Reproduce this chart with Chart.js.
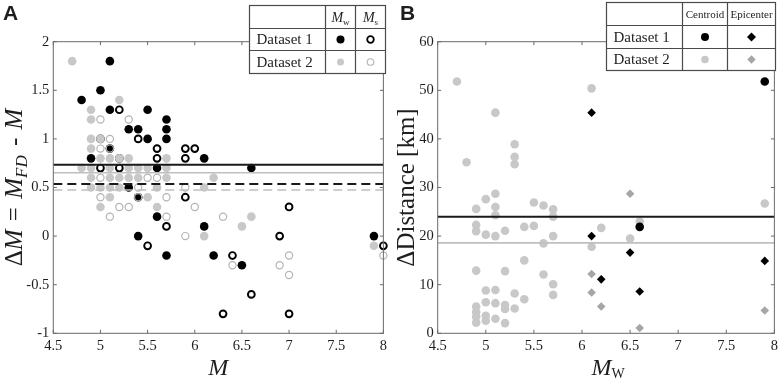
<!DOCTYPE html>
<html>
<head>
<meta charset="utf-8">
<script src="https://cdn.jsdelivr.net/npm/chart.js@4.4.1/dist/chart.umd.min.js"></script>
<style>
  body { margin: 0; background: #fff; }
  #wrap { position: relative; width: 782px; height: 380px; }
  .panel { position: absolute; top: 0; width: 391px; height: 380px; }
</style>
</head>
<body>
<div id="wrap">
  <div class="panel" style="left:0"><canvas id="chartA"></canvas></div>
  <div class="panel" style="left:391px"><canvas id="chartB"></canvas></div>
</div>
<script>
// ---- panel A : magnitude difference vs magnitude ----
const d1MwM  = [4.8, 5.0, 5.1, 5.1, 5.5, 5.3, 5.4, 5.7, 5.7, 5.5, 5.7, 5.1, 4.9, 6.1, 5.6, 6.6, 5.3, 5.4, 5.6, 6.1, 5.4, 5.7, 6.2, 6.5, 7.9];
const d1MwDM = [1.4, 1.5, 1.8, 1.3, 1.3, 1.1, 1.1, 1.2, 1.1, 1.0, 1.0, 0.9, 0.8, 0.8, 0.7, 0.7, 0.5, 0.4, 0.2, 0.1, 0.0, -0.2, -0.2, -0.3, 0.0];

const d1MsM  = [5.2, 5.0, 5.4, 5.6, 5.9, 6.0, 5.2, 5.6, 5.9, 5.0, 5.2, 5.9, 5.7, 7.0, 5.5, 6.9, 6.4, 6.6, 6.3, 7.0, 8.0];
const d1MsDM = [1.3, 1.0, 1.0, 0.9, 0.9, 0.9, 0.8, 0.8, 0.8, 0.7, 0.7, 0.4, 0.1, 0.3, -0.1, 0.0, -0.2, -0.6, -0.8, -0.8, -0.1];

const d2MwM  = [4.7, 5.2, 4.9, 4.9, 4.9, 5.0, 4.9, 5.0, 5.1, 5.2, 5.3, 5.7, 4.8, 4.9, 5.1, 5.3, 5.4, 5.5, 5.7, 4.9,
                5.1, 5.2, 5.3, 5.4, 5.7, 6.2, 4.9, 5.0, 5.1, 5.2, 5.6, 6.1, 5.1, 5.5, 5.0, 5.6, 6.6, 6.5, 6.1, 7.9];
const d2MwDM = [1.8, 1.4, 1.3, 1.2, 1.0, 1.0, 0.9, 0.8, 0.8, 0.8, 0.8, 0.8, 0.7, 0.7, 0.7, 0.7, 0.7, 0.7, 0.7, 0.6,
                0.6, 0.6, 0.6, 0.6, 0.6, 0.6, 0.5, 0.5, 0.5, 0.5, 0.5, 0.5, 0.4, 0.4, 0.3, 0.3, 0.2, 0.1, 0.0, -0.1];

const d2MsM  = [5.0, 5.3, 5.1, 5.0, 5.1, 5.0, 5.5, 5.6, 5.4, 5.9, 5.0, 5.7, 5.4, 5.2, 5.3, 6.0, 5.1, 5.7, 6.3, 5.9, 6.4, 6.9, 7.0, 7.0, 8.0];
const d2MsDM = [1.2, 1.2, 1.0, 0.9, 0.9, 0.6, 0.6, 0.6, 0.5, 0.5, 0.4, 0.4, 0.4, 0.3, 0.3, 0.3, 0.2, 0.2, 0.2, 0.0, -0.3, -0.3, -0.2, -0.4, -0.2];

// mean lines: [d1 Mw, d2 Mw, d1 Ms, d2 Ms]
const meanA = [0.735, 0.652, 0.536, 0.474];

// ---- panel B : location difference vs Mw ----
const d1CenMw   = [6.6, 7.9];
const d1CenDist = [21.9, 51.8];
const d1EpiMw   = [6.1, 6.1, 6.2, 6.5, 6.6, 7.9];
const d1EpiDist = [45.4, 20.0, 11.1, 16.6, 8.6, 14.9];

const d2CenMw   = [4.7, 4.8, 5.1, 5.3, 5.3, 5.3, 6.1,
                   4.9, 4.9, 4.9, 4.9, 4.9, 4.9, 4.9, 4.9,
                   5.0, 5.0, 5.0, 5.0, 5.0, 5.0,
                   5.1, 5.1, 5.1, 5.1, 5.1, 5.1, 5.1,
                   5.2, 5.2, 5.2, 5.2, 5.2, 5.3, 5.3,
                   5.4, 5.4, 5.4, 5.5, 5.5, 5.6, 5.6, 5.6,
                   5.7, 5.7, 5.7, 5.7, 5.7, 6.1, 6.2, 6.5, 6.6, 7.9];
const d2CenDist = [51.8, 35.2, 45.4, 38.9, 36.3, 34.8, 50.4,
                   25.6, 22.3, 21.0, 12.9, 5.5, 4.4, 3.4, 2.2,
                   27.6, 20.3, 8.8, 6.4, 3.6, 2.6,
                   28.7, 26.0, 24.3, 20.0, 8.9, 6.2, 3.0,
                   21.1, 12.8, 5.8, 5.0, 2.1, 8.2, 5.1,
                   21.9, 15.0, 7.0, 26.9, 22.1, 26.3, 18.5, 12.1,
                   25.5, 24.0, 20.0, 10.1, 7.9, 17.8, 21.7, 19.5, 23.0, 26.7];
const d2EpiMw   = [6.1, 6.1, 6.2, 6.5, 6.6, 7.9];
const d2EpiDist = [12.2, 8.4, 5.5, 28.7, 1.1, 4.7];

// mean lines: [d1, d2]
const meanB = [24.0, 18.6];

const xTicksMin = 4.5, xTicksMax = 8;

const SERIF = '"Liberation Serif", "Times New Roman", serif';
const AXIS = '#6a6a6a';
const TXT = '#1e1e1e';
const GRAY = '#c8c8c8';
const GRAY_RING = '#b4b4b4';
const GRAY_DIA = '#a6a6a6';

const zip = (xs, ys) => xs.map((x, i) => ({ x: x, y: ys[i] }));
const hline = (v) => [{ x: xTicksMin, y: v }, { x: xTicksMax, y: v }];

// draw a list of text runs (for italics / subscripts), centred on x
function drawRuns(ctx, runs, x, y) {
  let w = 0;
  runs.forEach(r => { ctx.font = r.f; w += ctx.measureText(r.t).width + (r.gap || 0); });
  let cx = x - w / 2;
  ctx.textAlign = 'left';
  ctx.textBaseline = 'alphabetic';
  runs.forEach(r => {
    ctx.font = r.f;
    ctx.fillText(r.t, cx, y + (r.dy || 0));
    cx += ctx.measureText(r.t).width + (r.gap || 0);
  });
}

function marker(ctx, kind, x, y, r, color, lw) {
  ctx.beginPath();
  if (kind === 'diamond') {
    ctx.moveTo(x - r, y); ctx.lineTo(x, y - r); ctx.lineTo(x + r, y); ctx.lineTo(x, y + r); ctx.closePath();
  } else {
    ctx.arc(x, y, r, 0, Math.PI * 2);
  }
  if (lw) { ctx.strokeStyle = color; ctx.lineWidth = lw; ctx.stroke(); }
  else { ctx.fillStyle = color; ctx.fill(); }
}

// box + inward ticks, axis titles, legend table, panel letter
const decor = (cfg) => ({
  id: 'decor',
  afterDraw(chart) {
    const ctx = chart.ctx;
    const a = chart.chartArea;
    ctx.save();
    ctx.strokeStyle = AXIS;
    ctx.lineWidth = 1;
    ctx.strokeRect(a.left, a.top, a.right - a.left, a.bottom - a.top);
    ctx.beginPath();
    chart.scales.x.ticks.forEach(t => {
      const p = chart.scales.x.getPixelForValue(t.value);
      ctx.moveTo(p, a.bottom); ctx.lineTo(p, a.bottom - 3.5);
      ctx.moveTo(p, a.top); ctx.lineTo(p, a.top + 3.5);
    });
    chart.scales.y.ticks.forEach(t => {
      const p = chart.scales.y.getPixelForValue(t.value);
      ctx.moveTo(a.left, p); ctx.lineTo(a.left + 3.5, p);
      ctx.moveTo(a.right, p); ctx.lineTo(a.right - 3.5, p);
    });
    ctx.stroke();

    ctx.fillStyle = TXT;
    drawRuns(ctx, cfg.xTitle, (a.left + a.right) / 2 + cfg.xTitleShift, 375);
    ctx.save();
    ctx.translate(cfg.yTitleX, (a.top + a.bottom) / 2);
    ctx.rotate(-Math.PI / 2);
    drawRuns(ctx, cfg.yTitle, 0, 8);
    ctx.restore();

    ctx.font = 'bold 21px "Liberation Sans", Arial, sans-serif';
    ctx.textAlign = 'left';
    ctx.textBaseline = 'alphabetic';
    ctx.fillText(cfg.letter, cfg.letterX, 20);

    // legend table
    const L = cfg.legend;
    ctx.fillStyle = '#fff';
    ctx.fillRect(L.x0, L.y0, L.x1 - L.x0, L.y3 - L.y0);
    ctx.strokeStyle = '#4a4a4a';
    ctx.lineWidth = 1.2;
    ctx.strokeRect(L.x0, L.y0, L.x1 - L.x0, L.y3 - L.y0);
    ctx.beginPath();
    [L.y1, L.y2].forEach(y => { ctx.moveTo(L.x0, y); ctx.lineTo(L.x1, y); });
    [L.c1, L.c2].forEach(x => { ctx.moveTo(x, L.y0); ctx.lineTo(x, L.y3); });
    ctx.stroke();
    const m1 = (L.c1 + L.c2) / 2, m2 = (L.c2 + L.x1) / 2;
    const r1 = (L.y1 + L.y2) / 2, r2 = (L.y2 + L.y3) / 2;
    ctx.fillStyle = TXT;
    drawRuns(ctx, L.head1, m1, L.headY);
    drawRuns(ctx, L.head2, m2, L.headY);
    ctx.font = '15px ' + SERIF;
    ctx.textAlign = 'left';
    ctx.textBaseline = 'middle';
    ctx.fillText(cfg.rowLabels[0], L.x0 + 7, r1 + 1);
    ctx.fillText(cfg.rowLabels[1], L.x0 + 7, r2 + 1);
    L.marks.forEach(mk => marker(ctx, mk.kind, mk.col === 1 ? m1 : m2, mk.row === 1 ? r1 : r2, mk.r, mk.c, mk.lw));
    ctx.restore();
  }
});

const tickFont = { family: SERIF, size: 14.5 };
const plainNum = (v) => String(Number(v.toFixed(2)));

function baseOptions(yMin, yMax, yStep, yWidth, rightPad) {
  return {
    responsive: true,
    maintainAspectRatio: false,
    animation: false,
    layout: { padding: { top: 41.7, right: rightPad, left: 0, bottom: 0 } },
    plugins: { legend: { display: false }, tooltip: { enabled: false } },
    scales: {
      x: {
        type: 'linear', min: xTicksMin, max: xTicksMax,
        ticks: { stepSize: 0.5, font: tickFont, color: TXT, padding: 4, callback: plainNum },
        grid: { display: false, drawTicks: false },
        border: { display: false },
        afterFit: (s) => { s.height = 46.7; }
      },
      y: {
        type: 'linear', min: yMin, max: yMax,
        ticks: { stepSize: yStep, font: tickFont, color: TXT, padding: 4, callback: plainNum },
        grid: { display: false, drawTicks: false },
        border: { display: false },
        afterFit: (s) => { s.width = yWidth; }
      }
    }
  };
}

const pts = (data, order, style) => Object.assign({ type: 'scatter', data: data, order: order, clip: false }, style);
const lineDs = (v, color, width, dash) => ({
  type: 'line', data: hline(v), order: 0, clip: false,
  borderColor: color, borderWidth: width, borderDash: dash || [], pointRadius: 0, fill: false
});

const italic = (s) => 'italic ' + s + 'px ' + SERIF;
const roman = (s) => s + 'px ' + SERIF;

new Chart(document.getElementById('chartA'), {
  type: 'scatter',
  data: {
    datasets: [
      lineDs(meanA[0], '#1a1a1a', 2),
      lineDs(meanA[1], '#bfbfbf', 1.6),
      lineDs(meanA[2], '#1a1a1a', 1.8, [9, 5]),
      lineDs(meanA[3], '#bfbfbf', 1.6, [9, 5]),
      pts(zip(d2MsM, d2MsDM), 1, { pointRadius: 3.6, borderWidth: 1.2, borderColor: GRAY_RING, backgroundColor: 'rgba(0,0,0,0)' }),
      pts(zip(d2MwM, d2MwDM), 2, { pointRadius: 4.3, borderWidth: 0, backgroundColor: GRAY }),
      pts(zip(d1MsM, d1MsDM), 3, { pointRadius: 3.4, borderWidth: 1.9, borderColor: '#000', backgroundColor: 'rgba(0,0,0,0)' }),
      pts(zip(d1MwM, d1MwDM), 4, { pointRadius: 4.3, borderWidth: 0, backgroundColor: '#000' })
    ]
  },
  options: baseOptions(-1, 2, 0.5, 53.3, 5.3),
  plugins: [decor({
    letter: 'A', letterX: 3,
    xTitle: [{ t: 'M', f: italic(24) }], xTitleShift: 0,
    yTitleX: 14,
    yTitle: [
      { t: 'Δ', f: roman(25) }, { t: 'M', f: italic(25), gap: 2 }, { t: ' = ', f: roman(25), gap: 2 },
      { t: 'M', f: italic(25) }, { t: 'FD', f: italic(17), dy: 5, gap: 3 },
      { t: ' - ', f: roman(25), gap: 2 }, { t: 'M', f: italic(25) }
    ],
    rowLabels: ['Dataset 1', 'Dataset 2'],
    legend: {
      x0: 249.5, x1: 385.5, y0: 5.5, y1: 28.5, y2: 50.5, y3: 73.5, c1: 325.5, c2: 355.5, headY: 22,
      head1: [{ t: 'M', f: italic(14) }, { t: 'w', f: roman(9), dy: 3 }],
      head2: [{ t: 'M', f: italic(14) }, { t: 's', f: roman(9), dy: 3 }],
      marks: [
        { kind: 'circle', col: 1, row: 1, r: 4, c: '#000' },
        { kind: 'circle', col: 2, row: 1, r: 3.3, c: '#000', lw: 1.8 },
        { kind: 'circle', col: 1, row: 2, r: 3.5, c: GRAY },
        { kind: 'circle', col: 2, row: 2, r: 3.3, c: GRAY_RING, lw: 1.1 }
      ]
    }
  })]
});

new Chart(document.getElementById('chartB'), {
  type: 'scatter',
  data: {
    datasets: [
      lineDs(meanB[0], '#1a1a1a', 2),
      lineDs(meanB[1], '#bfbfbf', 1.6),
      pts(zip(d1EpiMw, d1EpiDist), 1, { pointStyle: 'rectRot', pointRadius: 4.3, borderWidth: 0, backgroundColor: '#000' }),
      pts(zip(d1CenMw, d1CenDist), 2, { pointRadius: 4.3, borderWidth: 0, backgroundColor: '#000' }),
      pts(zip(d2EpiMw, d2EpiDist), 3, { pointStyle: 'rectRot', pointRadius: 4.3, borderWidth: 0, backgroundColor: GRAY_DIA }),
      pts(zip(d2CenMw, d2CenDist), 4, { pointRadius: 4.3, borderWidth: 0, backgroundColor: GRAY })
    ]
  },
  options: baseOptions(0, 60, 10, 46.7, 6.3),
  plugins: [decor({
    letter: 'B', letterX: 9,
    xTitle: [{ t: 'M', f: italic(24) }, { t: 'W', f: roman(14), dy: 3 }], xTitleShift: 2,
    yTitleX: 15,
    yTitle: [{ t: 'ΔDistance [km]', f: roman(25) }],
    rowLabels: ['Dataset 1', 'Dataset 2'],
    legend: {
      x0: 215.5, x1: 384.5, y0: 2.5, y1: 25.5, y2: 48.5, y3: 70.5, c1: 291.5, c2: 336.5, headY: 17.5,
      head1: [{ t: 'Centroid', f: roman(11) }],
      head2: [{ t: 'Epicenter', f: roman(11) }],
      marks: [
        { kind: 'circle', col: 1, row: 1, r: 4, c: '#000' },
        { kind: 'diamond', col: 2, row: 1, r: 4.5, c: '#000' },
        { kind: 'circle', col: 1, row: 2, r: 3.8, c: GRAY },
        { kind: 'diamond', col: 2, row: 2, r: 4.2, c: GRAY_DIA }
      ]
    }
  })]
});
</script>
</body>
</html>
